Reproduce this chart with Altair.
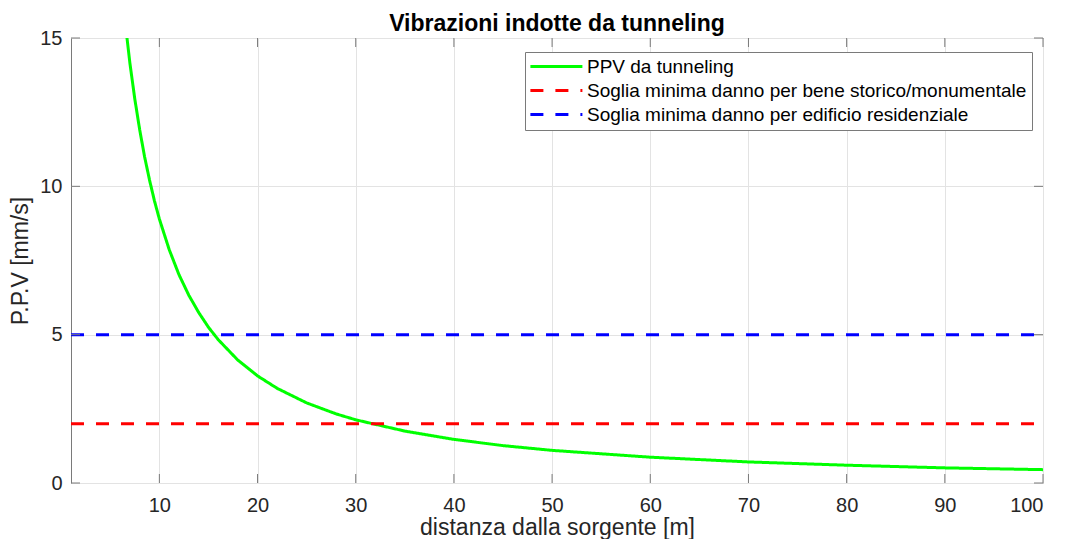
import altair as alt
import pandas as pd

# --- data ---
distanza = [6.0, 6.5, 7.0, 7.5, 8.0, 8.5, 9.0, 9.5, 10, 11, 12, 13, 14, 15, 16, 18, 20,
            22, 25, 28, 30, 35, 40, 45, 50, 60, 70, 80, 90, 100]
ppv = [17.29, 15.58, 14.15, 12.94, 11.90, 10.99, 10.21, 9.51, 8.90, 7.87, 7.02, 6.33,
       5.75, 5.25, 4.83, 4.14, 3.61, 3.19, 2.70, 2.33, 2.13, 1.75, 1.47, 1.26, 1.10,
       0.87, 0.71, 0.60, 0.51, 0.45]

serie = ["PPV da tunneling",
         "Soglia minima danno per bene storico/monumentale",
         "Soglia minima danno per edificio residenziale"]
colori = ["#00ff00", "#ff0000", "#0000ff"]
soglie = [2, 5]
x_estremi = [1, 100]
x_ticks = [10, 20, 30, 40, 50, 60, 70, 80, 90, 100]
y_ticks = [0, 5, 10, 15]

rows = [{"d": d, "v": v, "serie": serie[0]} for d, v in zip(distanza, ppv)]
for s, val in zip(serie[1:], soglie):
    for xe in x_estremi:
        rows.append({"d": xe, "v": val, "serie": s})
df = pd.DataFrame(rows)

W, H = 972, 445
AXC = "#7a7a7a"
TXT = "#262626"
FONT = "Liberation Sans"
TL = 9

xscale = alt.Scale(domain=[1, 100], nice=False, zero=False)
yscale = alt.Scale(domain=[0, 15], nice=False, zero=False)

leg = alt.Legend(
    orient="none", legendX=454, legendY=14, title=None,
    symbolType="M-1.4,0H6.6", symbolSize=169, symbolStrokeWidth=3,
    labelOffset=38, labelFontSize=19, labelFont=FONT, labelColor="#000000",
    labelLimit=0, padding=5, rowPadding=4, strokeColor=AXC, fillColor="white",
)

xaxis = alt.Axis(values=x_ticks, title="distanza dalla sorgente [m]", labelPadding=12,
                 titlePadding=1)
yaxis = alt.Axis(values=y_ticks, title="P.P.V [mm/s]", labelPadding=9, titlePadding=7)

lines = alt.Chart(df).mark_line(clip=True, strokeWidth=3).encode(
    x=alt.X("d:Q", scale=xscale, axis=xaxis),
    y=alt.Y("v:Q", scale=yscale, axis=yaxis),
    color=alt.Color("serie:N", scale=alt.Scale(domain=serie, range=colori), legend=leg),
    strokeDash=alt.StrokeDash("serie:N",
                              scale=alt.Scale(domain=serie, range=[[1, 0], [13, 12], [13, 12]]),
                              legend=leg),
)

xt = pd.DataFrame({"d": x_ticks})
yt = pd.DataFrame({"v": y_ticks})

tick_bottom = alt.Chart(xt).mark_rule(color=AXC, strokeWidth=1).encode(
    x=alt.X("d:Q", scale=xscale), y=alt.value(H), y2=alt.value(H - TL))
tick_top = alt.Chart(xt).mark_rule(color=AXC, strokeWidth=1).encode(
    x=alt.X("d:Q", scale=xscale), y=alt.value(0), y2=alt.value(TL))
tick_left = alt.Chart(yt).mark_rule(color=AXC, strokeWidth=1).encode(
    y=alt.Y("v:Q", scale=yscale), x=alt.value(0), x2=alt.value(TL))
tick_right = alt.Chart(yt).mark_rule(color=AXC, strokeWidth=1).encode(
    y=alt.Y("v:Q", scale=yscale), x=alt.value(W), x2=alt.value(W - TL))

chart = alt.layer(lines, tick_bottom, tick_top, tick_left, tick_right).properties(
    width=W, height=H,
    title=alt.Title("Vibrazioni indotte da tunneling", frame="group", offset=2, dy=10),
    autosize=alt.AutoSizeParams(type="none"),
    padding={"left": 63, "top": 30, "right": 6, "bottom": 56},
).configure_view(
    stroke=AXC, strokeWidth=1
).configure_axis(
    grid=True, gridColor="#e3e3e3", gridWidth=1, ticks=False, domain=False,
    labelFont=FONT, labelFontSize=20, labelColor=TXT,
    titleFont=FONT, titleFontSize=23, titleFontWeight="normal", titleColor=TXT,
).configure_title(
    font=FONT, fontSize=23, fontWeight="bold", color="#000000"
)

chart.save("out.html", embed_options={"renderer": "svg", "actions": False})
